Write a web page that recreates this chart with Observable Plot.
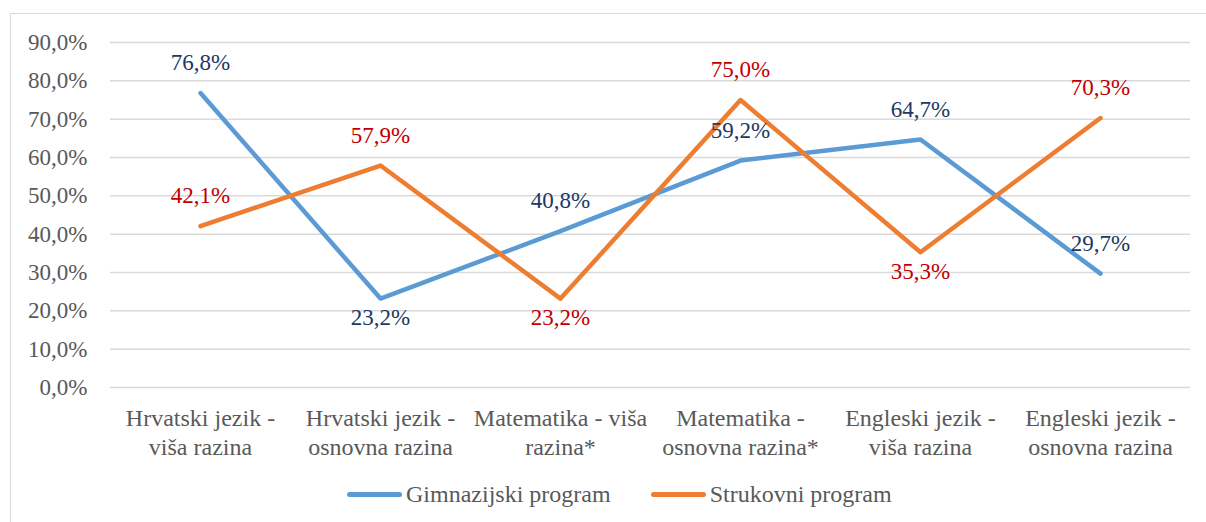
<!DOCTYPE html>
<html>
<head>
<meta charset="utf-8">
<script src="https://cdn.jsdelivr.net/npm/d3@7"></script>
<script src="https://cdn.jsdelivr.net/npm/@observablehq/plot@0.6"></script>
<style>
  html, body { margin: 0; padding: 0; background: #fff; width: 1206px; height: 522px; overflow: hidden; }
  #frame { position: absolute; left: 10px; top: 13px; width: 1210px; height: 530px; border: 1.5px solid #d9d9d9; box-sizing: border-box; }
  #chart { position: absolute; left: 0; top: 0; }
  #legend { position: absolute; left: 347px; top: 480px; display: flex; align-items: center;
            font-family: 'Liberation Serif', 'Times New Roman', serif; font-size: 24px; color: #595959; line-height: 28px; white-space: nowrap; }
  .item { display: flex; align-items: center; margin-right: 40px; }
  .swatch { display: inline-block; width: 55px; height: 5px; border-radius: 3px; margin-right: 4px; }
</style>
</head>
<body>
<div id="frame"></div>
<div id="chart"></div>
<div id="legend"></div>
<script>
const categories = [
  "Hrvatski jezik -\nviša razina",
  "Hrvatski jezik -\nosnovna razina",
  "Matematika - viša\nrazina*",
  "Matematika -\nosnovna razina*",
  "Engleski jezik -\nviša razina",
  "Engleski jezik -\nosnovna razina"
];
const gimnazijski = [76.8, 23.2, 40.8, 59.2, 64.7, 29.7];
const strukovni = [42.1, 57.9, 23.2, 75.0, 35.3, 70.3];
const seriesNames = ["Gimnazijski program", "Strukovni program"];
const yTicks = [0, 10, 20, 30, 40, 50, 60, 70, 80, 90];

const lineColors = ["#5B9BD5", "#ED7D31"];
const labelColors = ["#203864", "#C00000"];
const fmt = v => v.toFixed(1).replace(".", ",") + "%";

const seriesValues = [gimnazijski, strukovni];
const rows = [];
seriesValues.forEach((vals, s) => {
  vals.forEach((v, i) => {
    const interiorMin = i > 0 && i < vals.length - 1 && v < vals[i - 1] && v < vals[i + 1];
    rows.push({series: seriesNames[s], s, cat: categories[i], value: v, below: interiorMin});
  });
});

const marks = [
  Plot.gridY(yTicks, {stroke: "#d9d9d9", strokeOpacity: 1, strokeWidth: 1.5}),
  Plot.axisY(yTicks, {tickSize: 0, tickPadding: 23, fontSize: 23, tickFormat: fmt, label: null}),
  Plot.axisX({tickSize: 0, tickPadding: 18, fontSize: 24, lineHeight: 1.2, label: null})
];
seriesNames.forEach((name, s) => {
  const data = rows.filter(d => d.s === s);
  marks.push(Plot.line(data, {x: "cat", y: "value", stroke: lineColors[s], strokeWidth: 4.5,
    strokeLinecap: "round", strokeLinejoin: "round"}));
});
seriesNames.forEach((name, s) => {
  const data = rows.filter(d => d.s === s);
  marks.push(Plot.text(data.filter(d => !d.below), {x: "cat", y: "value", text: d => fmt(d.value),
    fill: labelColors[s], fontSize: 23, dy: -30}));
  marks.push(Plot.text(data.filter(d => d.below), {x: "cat", y: "value", text: d => fmt(d.value),
    fill: labelColors[s], fontSize: 23, dy: 19}));
});

const chart = Plot.plot({
  width: 1206,
  height: 470,
  marginLeft: 110,
  marginRight: 16,
  marginTop: 42,
  marginBottom: 83,
  x: {type: "point", domain: categories, padding: 0.5, label: null},
  y: {domain: [0, 90], label: null},
  style: {fontFamily: "'Liberation Serif', 'Times New Roman', serif", color: "#595959", background: "transparent", overflow: "visible"},
  marks
});
document.getElementById("chart").appendChild(chart);

const legend = document.getElementById("legend");
seriesNames.forEach((name, s) => {
  const item = document.createElement("span");
  item.className = "item";
  const sw = document.createElement("span");
  sw.className = "swatch";
  sw.style.background = lineColors[s];
  const t = document.createElement("span");
  t.textContent = name;
  item.appendChild(sw);
  item.appendChild(t);
  legend.appendChild(item);
});
</script>
</body>
</html>
